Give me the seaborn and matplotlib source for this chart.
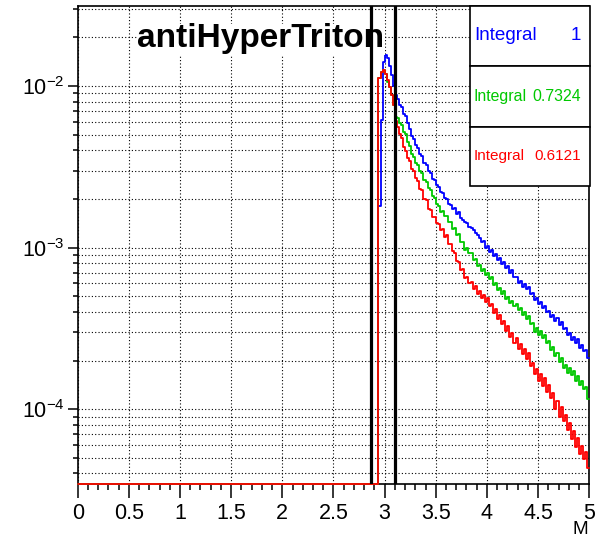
import matplotlib
matplotlib.use("Agg")
import numpy as np
import pandas as pd
import seaborn as sns
import matplotlib.pyplot as plt
from matplotlib.ticker import LogLocator, NullFormatter, MultipleLocator, LogFormatterSciNotation
from matplotlib.patches import Rectangle

# ---------------- data ----------------
x_min, x_max = 0.0, 5.0
first_edge = 2.94          # first non-empty bin edge
bin_width = 0.02           # bins from 2.94 to 5.00

blue_vals = [
    1.80e-3, 6.2e-3, 1.41e-2, 1.56e-2, 1.49e-2, 1.33e-2, 1.17e-2, 1.00e-2, 8.8e-3, 8.3e-3,
    7.6e-3, 7.4e-3, 6.7e-3, 6.5e-3, 5.9e-3, 5.4e-3, 4.9e-3, 4.7e-3, 4.3e-3, 4.12e-3,
    3.80e-3, 3.68e-3, 3.35e-3, 3.24e-3, 2.98e-3, 2.88e-3, 2.66e-3, 2.62e-3, 2.44e-3, 2.37e-3,
    2.20e-3, 2.19e-3, 2.02e-3, 2.00e-3, 1.87e-3, 1.84e-3, 1.74e-3, 1.77e-3, 1.62e-3, 1.65e-3,
    1.53e-3, 1.49e-3, 1.44e-3, 1.41e-3, 1.35e-3, 1.33e-3, 1.28e-3, 1.23e-3, 1.19e-3, 1.15e-3,
    1.08e-3, 1.10e-3, 1.00e-3, 1.02e-3, 9.4e-4, 9.6e-4, 8.9e-4, 9.1e-4, 8.4e-4, 8.6e-4,
    7.9e-4, 8.2e-4, 7.5e-4, 7.7e-4, 7.0e-4, 7.3e-4, 6.6e-4, 6.6e-4, 6.0e-4, 6.2e-4,
    5.7e-4, 5.95e-4, 5.55e-4, 5.7e-4, 5.15e-4, 5.25e-4, 4.75e-4, 4.9e-4, 4.45e-4, 4.62e-4,
    4.22e-4, 4.38e-4, 3.98e-4, 4.06e-4, 3.70e-4, 3.85e-4, 3.50e-4, 3.64e-4, 3.30e-4, 3.44e-4,
    3.12e-4, 3.20e-4, 2.86e-4, 2.95e-4, 2.66e-4, 2.78e-4, 2.55e-4, 2.70e-4, 2.40e-4, 2.50e-4,
    2.28e-4, 2.32e-4, 2.08e-4,
]
green_vals = [
    1.12e-2, 1.22e-2, 1.26e-2, 1.19e-2, 1.06e-2, 9.86e-3, 8.8e-3, 7.62e-3, 6.4e-3, 6.3e-3,
    5.9e-3, 5.7e-3, 5.2e-3, 5.05e-3, 4.5e-3, 4.25e-3, 3.8e-3, 3.62e-3, 3.35e-3, 3.25e-3,
    2.98e-3, 2.90e-3, 2.62e-3, 2.55e-3, 2.33e-3, 2.28e-3, 2.08e-3, 2.04e-3, 1.86e-3, 1.82e-3,
    1.65e-3, 1.68e-3, 1.56e-3, 1.58e-3, 1.45e-3, 1.45e-3, 1.31e-3, 1.32e-3, 1.20e-3, 1.21e-3,
    1.08e-3, 1.08e-3, 9.7e-4, 9.9e-4, 9.2e-4, 9.2e-4, 8.4e-4, 8.5e-4, 7.7e-4, 7.8e-4,
    7.2e-4, 7.4e-4, 6.8e-4, 7.0e-4, 6.4e-4, 6.6e-4, 5.9e-4, 6.05e-4, 5.45e-4, 5.65e-4,
    5.15e-4, 5.35e-4, 4.8e-4, 4.98e-4, 4.55e-4, 4.7e-4, 4.35e-4, 4.5e-4, 4.1e-4, 4.25e-4,
    3.82e-4, 3.98e-4, 3.6e-4, 3.75e-4, 3.35e-4, 3.4e-4, 3.02e-4, 3.16e-4, 2.86e-4, 3.05e-4,
    2.74e-4, 2.88e-4, 2.55e-4, 2.63e-4, 2.33e-4, 2.42e-4, 2.14e-4, 2.24e-4, 1.96e-4, 2.06e-4,
    1.80e-4, 1.88e-4, 1.68e-4, 1.80e-4, 1.63e-4, 1.71e-4, 1.50e-4, 1.60e-4, 1.41e-4, 1.50e-4,
    1.33e-4, 1.38e-4, 1.16e-4,
]
red_vals = [
    1.12e-2, 1.22e-2, 1.26e-2, 1.19e-2, 1.09e-2, 9.86e-3, 8.8e-3, 7.62e-3, 6.07e-3, 5.55e-3,
    5.05e-3, 4.75e-3, 4.2e-3, 3.98e-3, 3.58e-3, 3.44e-3, 3.08e-3, 2.98e-3, 2.68e-3, 2.60e-3,
    2.32e-3, 2.26e-3, 2.0e-3, 1.96e-3, 1.73e-3, 1.71e-3, 1.55e-3, 1.55e-3, 1.42e-3, 1.40e-3,
    1.28e-3, 1.30e-3, 1.17e-3, 1.19e-3, 1.06e-3, 1.06e-3, 9.5e-4, 9.3e-4, 8.3e-4, 8.2e-4,
    7.3e-4, 7.4e-4, 6.5e-4, 6.6e-4, 6.0e-4, 6.1e-4, 5.55e-4, 5.8e-4, 5.15e-4, 5.4e-4,
    4.85e-4, 5.1e-4, 4.6e-4, 4.85e-4, 4.35e-4, 4.5e-4, 3.95e-4, 4.15e-4, 3.62e-4, 3.8e-4,
    3.35e-4, 3.5e-4, 3.05e-4, 3.25e-4, 2.8e-4, 2.98e-4, 2.58e-4, 2.74e-4, 2.36e-4, 2.52e-4,
    2.18e-4, 2.35e-4, 2.05e-4, 2.22e-4, 1.85e-4, 1.92e-4, 1.65e-4, 1.78e-4, 1.50e-4, 1.65e-4,
    1.40e-4, 1.55e-4, 1.28e-4, 1.42e-4, 1.18e-4, 1.25e-4, 1.00e-4, 1.12e-4, 9.0e-5, 1.03e-4,
    8.4e-5, 9.2e-5, 7.4e-5, 8.2e-5, 6.5e-5, 7.3e-5, 5.8e-5, 6.6e-5, 5.3e-5, 5.9e-5,
    4.9e-5, 5.4e-5, 4.3e-5,
]
series_names = ["blue", "green", "red"]
integrals = ["1", "0.7324", "0.6121"]
cut_lines = [2.87, 3.10]
title = "antiHyperTriton"
x_label = "M"

# ---------------- style ----------------
sns.set_style("ticks")
plt.rcParams["font.family"] = ["Liberation Sans", "DejaVu Sans"]
plt.rcParams["mathtext.default"] = "regular"
for k in ["text.color", "axes.labelcolor", "xtick.color", "ytick.color", "axes.edgecolor"]:
    plt.rcParams[k] = "black"

colors = {"blue": "#0000ff", "green": "#00c800", "red": "#ff0000"}

W, H = 599, 540
fig = plt.figure(figsize=(W / 100, H / 100), dpi=100)
ax = fig.add_axes([77.7 / W, 1 - 484 / H, (589.2 - 77.7) / W, (484 - 6) / H])

y_lo, y_hi = 3.44e-5, 3.13e-2

n = len(blue_vals)
edges = np.round(np.concatenate([[x_min], first_edge + bin_width * np.arange(n + 1)]), 4)

frames = []
for name, vals in zip(series_names, [blue_vals, green_vals, red_vals]):
    y = [y_lo] + list(vals)          # empty region drawn on the frame bottom (ROOT style)
    y = y + [y[-1]]
    frames.append(pd.DataFrame({"M": edges, "v": y, "s": name}))

for df in frames:
    name = df["s"].iloc[0]
    sns.lineplot(data=df, x="M", y="v", drawstyle="steps-post", color=colors[name],
                 lw=1.3, estimator=None, sort=False, ax=ax, zorder=3, clip_on=False)

for c in cut_lines:
    ax.axvline(c, color="black", lw=2.3, zorder=4)

ax.set_yscale("log")
ax.set_xlim(x_min, x_max)
ax.set_ylim(y_lo, y_hi)

ax.yaxis.set_major_locator(LogLocator(base=10, numticks=10))
ax.yaxis.set_minor_locator(LogLocator(base=10, subs=np.arange(2, 10), numticks=20))
ax.yaxis.set_minor_formatter(NullFormatter())
ax.yaxis.set_major_formatter(LogFormatterSciNotation())
ax.xaxis.set_major_locator(MultipleLocator(0.5))
ax.xaxis.set_minor_locator(MultipleLocator(0.1))
ax.xaxis.set_major_formatter(plt.FuncFormatter(lambda v, p: f"{v:g}"))

dot = (0, (1, 2))
ax.grid(True, which="both", axis="y", color="black", lw=0.8, ls=dot)
ax.grid(True, which="major", axis="x", color="black", lw=0.8, ls=dot)
ax.set_axisbelow(True)

for sp in ax.spines.values():
    sp.set_linewidth(1.2)
    sp.set_color("black")

ax.tick_params(axis="x", which="major", direction="out", length=10, width=1.1, pad=4,
               labelsize=15.5, colors="black")
ax.tick_params(axis="x", which="minor", direction="out", length=4.5, width=1.1, colors="black")
ax.tick_params(axis="y", which="major", direction="out", length=7.5, width=1.1, pad=2.0,
               labelsize=15.5, colors="black")
ax.tick_params(axis="y", which="minor", direction="out", length=3.8, width=1.1, colors="black")
ax.set_xlabel("")
ax.set_ylabel("")

fig.text(588 / W, 1 - 530 / H, x_label, ha="right", va="center", fontsize=13.6, color="black")
ax.text(261 / W, 1 - 39 / H, title, transform=fig.transFigure, ha="center", va="center",
        fontsize=24, weight="bold", color="black", zorder=3.5,
        bbox=dict(facecolor="white", edgecolor="none", pad=0))

# stat boxes
box_l, box_r = 469.5, 589.5
bounds = [(6, 66), (66, 127), (127, 186)]
sizes = [13.6, 11.4, 11.0]
for (top, bot), name, integ, fs in zip(bounds, series_names, integrals, sizes):
    rect = Rectangle((box_l / W, 1 - bot / H), (box_r - box_l) / W, (bot - top) / H,
                     transform=fig.transFigure, facecolor="white", edgecolor="black",
                     lw=1.2, zorder=10)
    fig.add_artist(rect)
    yc = 1 - (top + bot) / 2 / H
    fig.text(474 / W, yc, "Integral", ha="left", va="center", fontsize=fs,
             color=colors[name], zorder=11)
    fig.text(581 / W, yc, integ, ha="right", va="center", fontsize=fs,
             color=colors[name], zorder=11)

fig.savefig("out.png", dpi=100)
